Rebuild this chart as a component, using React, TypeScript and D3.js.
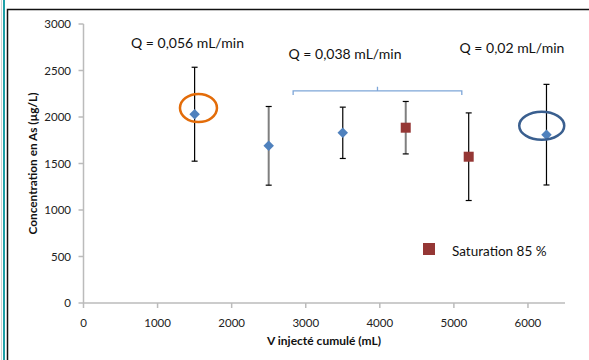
import React from "react";
import * as d3 from "d3";

// Data
const xValues = [1500, 2500, 3500, 4350, 5200, 6250];
const yValues = [2030, 1690, 1830, 1885, 1573, 1810];
const errValues = [505, 423, 276, 282, 471, 541];
const markerKinds = ["diamond", "diamond", "diamond", "square", "square", "diamond"];
const xTicks = [0, 1000, 2000, 3000, 4000, 5000, 6000];
const yTicks = [0, 500, 1000, 1500, 2000, 2500, 3000];
const flowLabels = ["Q = 0,056 mL/min", "Q = 0,038 mL/min", "Q = 0,02 mL/min"];
const flowLabelX = [1404, 3530, 5784];
const flowLabelY = [2795, 2675, 2740];
const legendLabel = "Saturation 85 %";
const xTitle = "V injecté cumulé (mL)";
const yTitle = "Concentration en As (µg/L)";

const W = 589;
const H = 360;
const FONT = "Lato, Carlito, 'Open Sans', sans-serif";

export default function App() {
  const x = d3.scaleLinear().domain([0, 6500]).range([83.5, 565]);
  const y = d3.scaleLinear().domain([0, 3000]).range([303, 24]);
  const axisColor = "#BBBBBB";
  const grayBars = new Set([1, 3]);

  const diamond = d3.symbol().type(d3.symbolDiamond2 || d3.symbolDiamond).size(70)();

  // bracket
  const bx0 = x(2830), bx1 = x(5107), by = y(2280), byTip = y(2237), byMid = y(2325), bxm = (bx0 + bx1) / 2;
  const bracketPath = `M${bx0},${byTip} L${bx0},${by} L${bx1},${by} L${bx1},${byTip} M${bxm},${by} L${bxm},${byMid}`;

  return (
    <svg width={W} height={H} style={{ position: "absolute", left: 0, top: 0, background: "#fff" }}
      fontFamily={FONT}>
      <rect x={0} y={0} width={W} height={H} fill="#fff" />
      {/* page borders */}
      <line x1={1.5} y1={0} x2={1.5} y2={H} stroke="#D0D0D0" strokeWidth={1} />
      <line x1={4} y1={0} x2={4} y2={H} stroke="#1FA0A8" strokeWidth={2} />
      <path d={`M7.5,${H} L7.5,9.5 L${W},9.5`} fill="none" stroke="#111" strokeWidth={1.5} />

      {/* axes */}
      <line x1={x(0)} y1={y(0)} x2={x(6500)} y2={y(0)} stroke={axisColor} strokeWidth={1.5} />
      <line x1={x(0)} y1={y(0)} x2={x(0)} y2={y(3000)} stroke={axisColor} strokeWidth={1.5} />
      {yTicks.map((t) => (
        <g key={"y" + t}>
          <line x1={x(0) - 5} x2={x(0)} y1={y(t)} y2={y(t)} stroke={axisColor} strokeWidth={1.5} />
          <text x={71} y={y(t)} dy="0.35em" textAnchor="end" fontSize={11.5} fill="#222">{t}</text>
        </g>
      ))}
      {xTicks.map((t) => (
        <g key={"x" + t}>
          <line x1={x(t)} x2={x(t)} y1={y(0)} y2={y(0) + 5} stroke={axisColor} strokeWidth={1.5} />
          <text x={x(t)} y={322.5} dy="0.35em" textAnchor="middle" fontSize={11.5} fill="#222">{t}</text>
        </g>
      ))}
      <text x={324} y={341} dy="0.35em" textAnchor="middle" fontSize={12} fontWeight="bold" fill="#111">{xTitle}</text>
      <text transform={`translate(32.5,${(y(0) + y(3000)) / 2}) rotate(-90)`} dy="0.35em" textAnchor="middle"
        fontSize={11.8} fontWeight="bold" fill="#111">{yTitle}</text>

      {/* error bars */}
      {xValues.map((xv, i) => {
        const gray = grayBars.has(i);
        const c = gray ? "#7F7F7F" : "#000";
        const sw = gray ? 2 : 1.2;
        const top = y(yValues[i] + errValues[i]);
        const bot = y(yValues[i] - errValues[i]);
        const cx = x(xv);
        return (
          <g key={"e" + i}>
            <line x1={cx} x2={cx} y1={top} y2={bot} stroke={c} strokeWidth={sw} />
            <line x1={cx - 3} x2={cx + 3} y1={top} y2={top} stroke="#000" strokeWidth={1.2} />
            <line x1={cx - 3} x2={cx + 3} y1={bot} y2={bot} stroke="#000" strokeWidth={1.2} />
          </g>
        );
      })}

      {/* markers */}
      {xValues.map((xv, i) =>
        markerKinds[i] === "diamond" ? (
          <path key={"m" + i} d={diamond} transform={`translate(${x(xv)},${y(yValues[i])})`} fill="#4F81BD" />
        ) : (
          <rect key={"m" + i} x={x(xv) - 5} y={y(yValues[i]) - 5} width={10} height={10} fill="#953735" />
        )
      )}

      {/* annotation ellipses */}
      <ellipse cx={x(1552)} cy={y(2097)} rx={18.5} ry={14} fill="none" stroke="#E36C09" strokeWidth={2.5} />
      <ellipse cx={x(6186)} cy={y(1906)} rx={22.5} ry={14} fill="none" stroke="#3A5F8F" strokeWidth={2.5} />

      {/* bracket */}
      <path d={bracketPath} fill="none" stroke="#7EA6D8" strokeWidth={1.3} />

      {/* flow labels */}
      {flowLabels.map((l, i) => (
        <text key={"f" + i} x={x(flowLabelX[i])} y={y(flowLabelY[i])} dy="0.35em" textAnchor="middle" fontSize={14} fill="#111">{l}</text>
      ))}

      {/* legend */}
      <rect x={423} y={243} width={12} height={12} fill="#953735" />
      <text x={452} y={251.5} dy="0.35em" fontSize={13.5} fill="#111">{legendLabel}</text>
    </svg>
  );
}
